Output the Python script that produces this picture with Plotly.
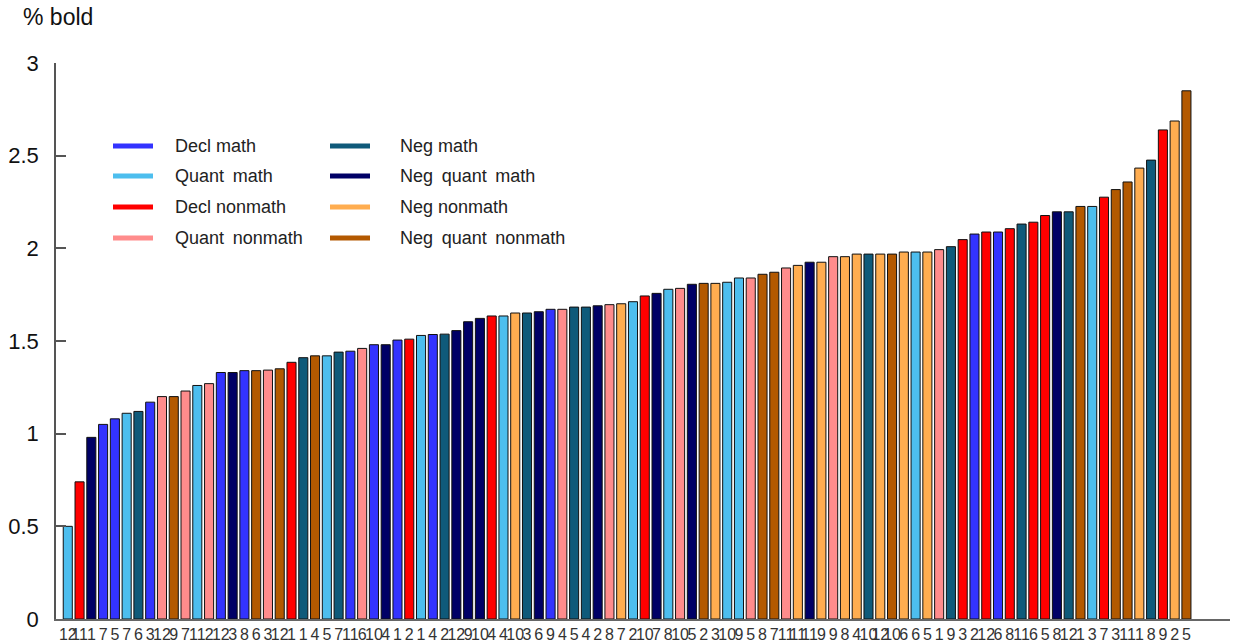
import plotly.graph_objects as go

# ---- data (sorted order left -> right) ----
groups = ["Decl math", "Quant math", "Decl nonmath", "Quant nonmath",
          "Neg math", "Neg quant math", "Neg nonmath", "Neg quant nonmath"]
group_colors = ["#3333FF", "#4DBEEE", "#FF0000", "#FF8C8C",
                "#0F5A7A", "#000066", "#FFAD50", "#B35900"]
group_codes = ["DM", "QM", "DN", "QN", "NM", "NQM", "NN", "NQN"]

# group code per bar: DM, QM, DN, QN, NM, NQM, NN, NQN
bar_group = ["QM", "DN", "NQM", "DM", "DM", "QM", "NM", "DM", "QN", "NQN",
             "QN", "QM", "QN", "DM", "NQM", "DM", "NQN", "QN", "NQN", "DN",
             "NM", "NQN", "QM", "NM", "DM", "QN", "DM", "NQM", "DM", "DN",
             "QM", "DM", "NM", "NQM", "NQM", "NQM", "DN", "QM", "NN", "NM",
             "NQM", "DM", "QN", "NM", "NM", "NQM", "QN", "NN", "QM", "DN",
             "NQM", "QM", "QN", "NQM", "NQN", "NN", "QM", "QM", "QN", "NQN",
             "NQN", "QN", "NN", "NQM", "NN", "QN", "NN", "NN", "NM", "NN",
             "NQN", "NN", "QM", "NN", "QN", "NM", "DN", "DM", "DN", "DM",
             "DN", "NM", "DN", "DN", "NQM", "NM", "NQN", "QM", "DN", "NQN",
             "NQN", "NN", "NM", "DN", "NN", "NQN"]
bar_item = ["12", "11", "1", "7", "5", "7", "6", "3", "12", "9",
            "7", "11", "2", "12", "3", "8", "6", "3", "12", "1",
            "1", "4", "5", "7", "11", "6", "10", "4", "1", "2",
            "1", "4", "2", "12", "9", "10", "4", "4", "10", "3",
            "6", "9", "4", "5", "4", "2", "8", "7", "2", "10",
            "7", "8", "10", "5", "2", "3", "10", "9", "5", "8",
            "7", "11", "11", "11", "9", "9", "8", "4", "10", "12",
            "10", "6", "6", "5", "1", "9", "3", "2", "12", "6",
            "8", "11", "6", "5", "8", "12", "1", "3", "7", "3",
            "11", "1", "8", "9", "2", "5"]
bar_value = [0.50, 0.74, 0.98, 1.05, 1.08, 1.11, 1.12, 1.17, 1.20, 1.20,
             1.23, 1.26, 1.27, 1.33, 1.33, 1.34, 1.34, 1.343, 1.35, 1.385,
             1.41, 1.42, 1.42, 1.44, 1.445, 1.46, 1.48, 1.48, 1.505, 1.51,
             1.53, 1.535, 1.537, 1.556, 1.604, 1.622, 1.635, 1.635, 1.651, 1.651,
             1.658, 1.671, 1.671, 1.683, 1.683, 1.69, 1.696, 1.701, 1.712, 1.743,
             1.757, 1.779, 1.784, 1.806, 1.811, 1.811, 1.817, 1.84, 1.84, 1.86,
             1.871, 1.894, 1.908, 1.925, 1.925, 1.955, 1.955, 1.969, 1.969, 1.969,
             1.969, 1.98, 1.98, 1.98, 1.993, 2.009, 2.047, 2.077, 2.088, 2.088,
             2.106, 2.131, 2.141, 2.177, 2.197, 2.197, 2.226, 2.226, 2.276, 2.317,
             2.358, 2.433, 2.476, 2.639, 2.687, 2.85]

y_ticks = [0, 0.5, 1, 1.5, 2, 2.5, 3]
y_ticktext = ["0", "0.5", "1", "1.5", "2", "2.5", "3"]

# ---- layout geometry (pixels) ----
W, H = 1237, 642
ML, MR, MT, MB = 56, 7, 63, 23
PW, PH = W - ML - MR, H - MT - MB


def px_x(px):
    return (px - ML) / PW


def px_y(py):
    return (H - MB - py) / PH


fig = go.Figure()
xs_all = list(range(len(bar_value)))
for code, name, col in zip(group_codes, groups, group_colors):
    xs = [i for i in xs_all if bar_group[i] == code]
    ys = [bar_value[i] for i in xs]
    fig.add_trace(go.Bar(
        x=xs, y=ys, name=name, width=0.77,
        marker=dict(color=col, line=dict(color="#111111", width=1)),
        showlegend=False, hoverinfo="y"))

# legend drawn as thick line segments + text, two columns of four
shapes, annotations = [], []
col_line = [(113, 153), (330, 370)]
col_text = [173, 398]
row_y = [146, 176, 207, 238]
for k, (name, col) in enumerate(zip(groups, group_colors)):
    c, r = divmod(k, 4)
    x0, x1 = col_line[c]
    shapes.append(dict(type="line", xref="paper", yref="paper",
                       x0=px_x(x0), x1=px_x(x1), y0=px_y(row_y[r]), y1=px_y(row_y[r]),
                       line=dict(color=col, width=5)))
    label = name.replace(" ", "\u2009 ") if name.startswith(("Quant", "Neg quant")) else name
    annotations.append(dict(xref="paper", yref="paper", x=px_x(col_text[c]), y=px_y(row_y[r]),
                            text=label, showarrow=False, xanchor="left", yanchor="middle",
                            font=dict(size=18, color="#222222", family="Liberation Sans, Arial, sans-serif")))

annotations.append(dict(xref="paper", yref="paper", x=px_x(21), y=px_y(17),
                        text="% bold", showarrow=False, xanchor="left", yanchor="middle",
                        font=dict(size=23, color="#111111", family="Liberation Sans, Arial, sans-serif")))

fig.update_layout(
    width=W, height=H,
    margin=dict(l=ML, r=MR, t=MT, b=MB, pad=0),
    template="none",
    paper_bgcolor="white", plot_bgcolor="white",
    barmode="overlay",
    showlegend=False,
    shapes=shapes, annotations=annotations,
    font=dict(family="Liberation Sans, Arial, sans-serif", color="#222222"),
    xaxis=dict(range=[-1.0, 98.7], tickmode="array", tickvals=xs_all, ticktext=bar_item,
               tickangle=0, showgrid=False, zeroline=False, ticks="",
               showline=True, linecolor="#666666", linewidth=2, automargin=False,
               tickfont=dict(size=16, color="#333333",
                             family="Liberation Sans Narrow, Arial Narrow, Liberation Sans, sans-serif")),
    yaxis=dict(range=[0, 3], tickmode="array", tickvals=y_ticks, ticktext=y_ticktext,
               showgrid=False, zeroline=False, ticks="inside", ticklen=10, tickwidth=1.5,
               tickcolor="#555555", showline=True, linecolor="#555555", linewidth=1.5,
               automargin=False, ticklabelstandoff=11,
               tickfont=dict(size=22, color="#111111")),
)

fig.write_html("out.html", config={"displayModeBar": False},
               post_script="document.body.style.margin='0';")
